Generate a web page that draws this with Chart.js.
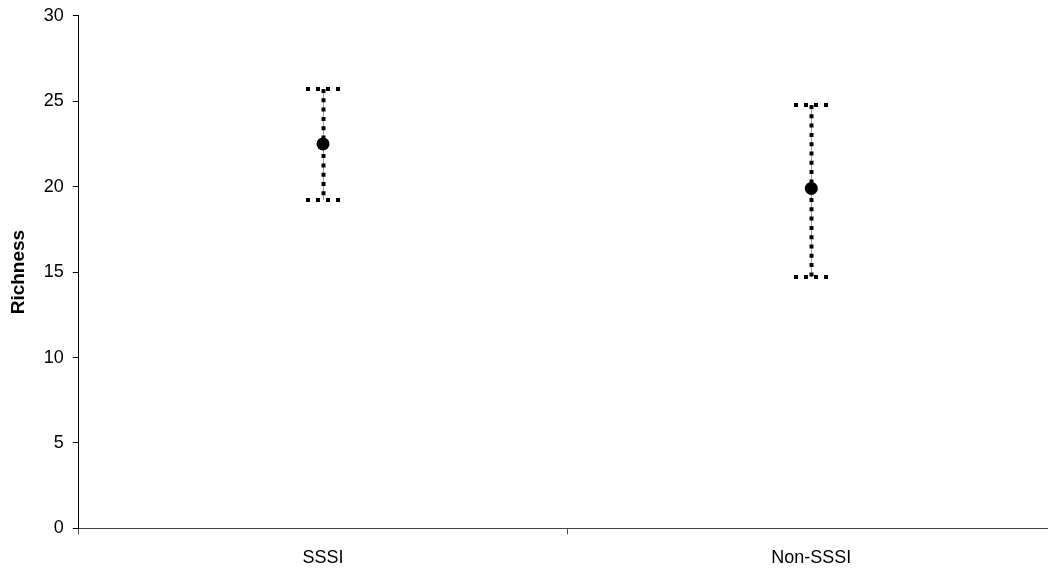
<!DOCTYPE html>
<html>
<head>
<meta charset="utf-8">
<script src="https://cdn.jsdelivr.net/npm/chart.js@4"></script>
<style>
html,body{margin:0;padding:0;background:#fff;overflow:hidden;}
#wrap{width:1048px;height:569px;overflow:hidden;}
#c{display:block;margin-top:-4px;}
</style>
</head>
<body>
<div id="wrap"><canvas id="c" width="1062" height="588"></canvas></div>
<script>
const categories = ["SSSI", "Non-SSSI"];
const meanValues = [22.5, 19.9];
const upperValues = [25.7, 24.8];
const lowerValues = [19.2, 14.7];
const yTicks = [0, 5, 10, 15, 20, 25, 30];

const errorBarPlugin = {
  id: 'errorBars',
  beforeDatasetsDraw(chart) {
    const ctx = chart.ctx;
    const xs = chart.scales.x, ys = chart.scales.y;
    ctx.save();
    categories.forEach((c, i) => {
      const x = Math.round(xs.getPixelForValue(i));
      const yH = Math.round(ys.getPixelForValue(upperValues[i]));
      const yL = Math.round(ys.getPixelForValue(lowerValues[i]));
      ctx.setLineDash([]);
      ctx.strokeStyle = '#999';
      ctx.lineWidth = 1;
      ctx.beginPath(); ctx.moveTo(x + 0.5, yH); ctx.lineTo(x + 0.5, yL); ctx.stroke();
      ctx.strokeStyle = '#000';
      ctx.lineWidth = 4;
      ctx.setLineDash([4, 5.3]);
      ctx.beginPath(); ctx.moveTo(x + 0.5, yH); ctx.lineTo(x + 0.5, yL); ctx.stroke();
      ctx.lineWidth = 4;
      ctx.setLineDash([4, 6]);
      const hw = 17;
      [yH, yL].forEach(y => {
        ctx.beginPath(); ctx.moveTo(x - hw, y); ctx.lineTo(x + hw, y); ctx.stroke();
      });
    });
    ctx.restore();
  }
};

new Chart(document.getElementById('c'), {
  type: 'line',
  data: {
    labels: categories,
    datasets: [{
      data: meanValues,
      showLine: false,
      pointRadius: 6.5,
      pointHoverRadius: 6.5,
      pointBackgroundColor: '#000',
      pointBorderColor: '#000',
      pointBorderWidth: 0
    }]
  },
  options: {
    responsive: false,
    animation: false,
    devicePixelRatio: 1,
    layout: { padding: { left: 0, top: 11, right: 2, bottom: 2 } },
    plugins: { legend: { display: false }, tooltip: { enabled: false } },
    scales: {
      x: {
        type: 'category',
        offset: true,
        grid: { offset: true, drawOnChartArea: false, drawTicks: true, tickLength: 6, color: '#555', tickWidth: 1 },
        border: { color: '#444', width: 1 },
        ticks: { color: '#000', font: { family: 'Liberation Sans, Arial', size: 18 }, padding: 13 }
      },
      y: {
        min: 0, max: 30,
        afterBuildTicks(axis) { axis.ticks = yTicks.map(v => ({ value: v })); },
        grid: { drawOnChartArea: false, drawTicks: true, tickLength: 6, color: '#000' },
        border: { color: '#000', width: 1 },
        ticks: { color: '#000', font: { family: 'Liberation Sans, Arial', size: 18 }, padding: 9 },
        title: { display: true, text: 'Richness', color: '#000', font: { family: 'Liberation Sans, Arial', size: 19, weight: 'bold' }, padding: { top: 7, bottom: 5 } }
      }
    }
  },
  plugins: [errorBarPlugin]
});
</script>
</body>
</html>
